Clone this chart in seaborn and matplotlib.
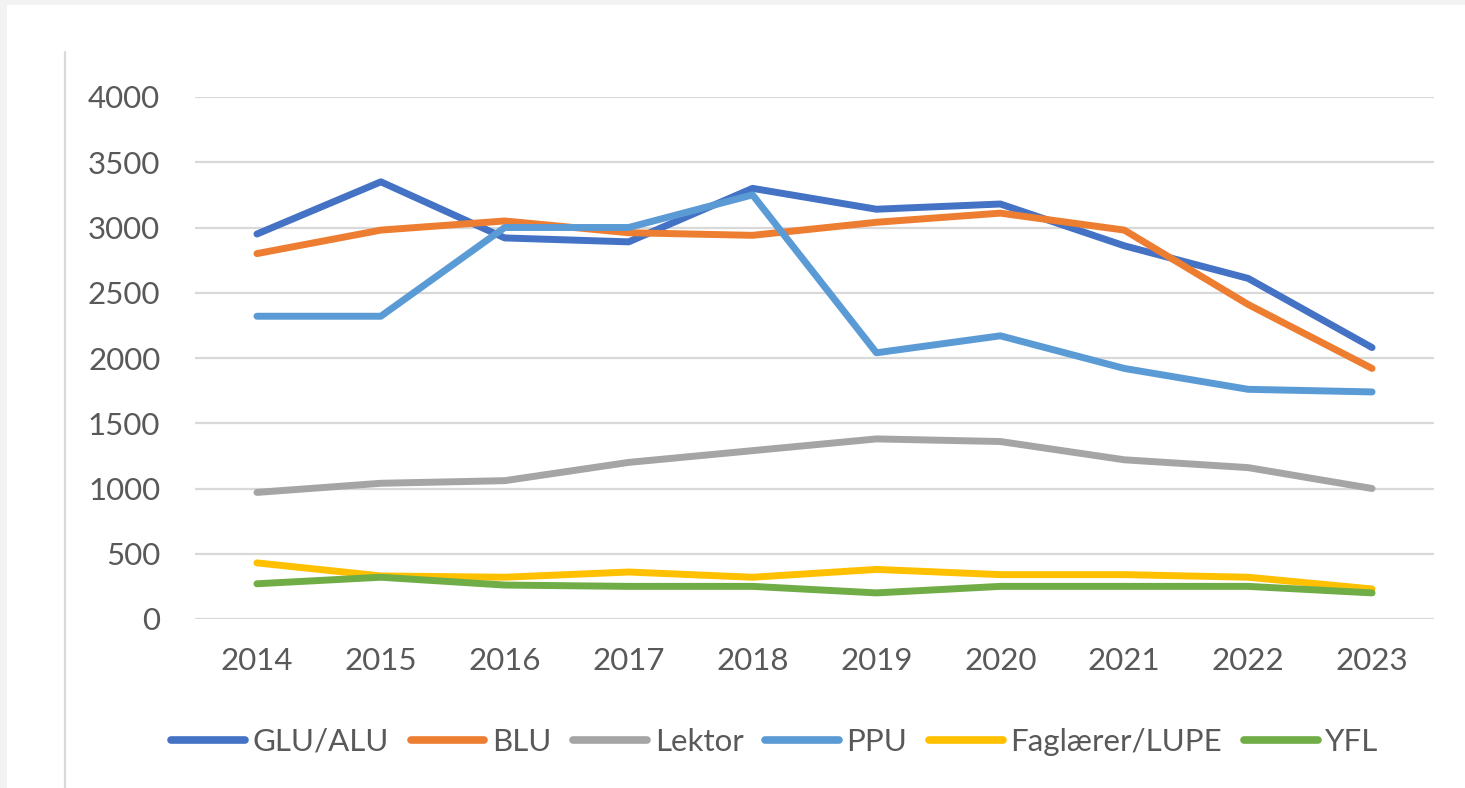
import matplotlib
matplotlib.use("Agg")
import matplotlib.pyplot as plt
import seaborn as sns
import pandas as pd
from matplotlib.patches import Rectangle
from matplotlib.lines import Line2D

years = ["2014", "2015", "2016", "2017", "2018", "2019", "2020", "2021", "2022", "2023"]
glu_alu = [2950, 3350, 2920, 2890, 3300, 3140, 3180, 2860, 2610, 2080]
blu = [2800, 2980, 3050, 2960, 2940, 3040, 3110, 2980, 2410, 1920]
lektor = [970, 1040, 1060, 1200, 1290, 1380, 1360, 1220, 1160, 1000]
ppu = [2320, 2320, 3000, 3000, 3250, 2040, 2170, 1920, 1760, 1740]
faglaerer = [430, 330, 320, 360, 320, 380, 340, 340, 320, 230]
yfl = [270, 320, 260, 250, 250, 200, 250, 250, 250, 200]

series_names = ["GLU/ALU", "BLU", "Lektor", "PPU", "Faglærer/LUPE", "YFL"]
series_vals = [glu_alu, blu, lektor, ppu, faglaerer, yfl]
colors = ["#4472C4", "#ED7D31", "#A5A5A5", "#5B9BD5", "#FFC000", "#70AD47"]
y_ticks = [0, 500, 1000, 1500, 2000, 2500, 3000, 3500, 4000]

rows = []
for name, vals in zip(series_names, series_vals):
    for i, (yr, v) in enumerate(zip(years, vals)):
        rows.append({"idx": i, "year": yr, "value": v, "series": name})
df = pd.DataFrame(rows)

sns.set_style("white")
plt.rcParams["font.family"] = ["Lato", "DejaVu Sans"]

W, H = 1465, 788
fig = plt.figure(figsize=(W / 100, H / 100), dpi=100)
fig.patch.set_facecolor("#f2f2f2")
fig.add_artist(Rectangle((7 / W, 0), 1, 1 - 5 / H, transform=fig.transFigure,
                         facecolor="white", edgecolor="none", zorder=0))
fig.add_artist(Line2D([65 / W, 65 / W], [0, 1 - 52 / H], transform=fig.transFigure,
                      color="#d9d9d9", lw=1.6, zorder=1))

ax = fig.add_axes([195 / W, (H - 619) / H, (1434 - 195) / W, (619 - 97) / H])
ax.set_facecolor("none")
sns.lineplot(data=df, x="idx", y="value", hue="series", hue_order=series_names,
             palette=colors, linewidth=5.0, ax=ax, legend=False, sort=False)

ax.set_xlim(-0.5, len(years) - 0.5)
ax.set_ylim(0, 4000)
ax.set_yticks(y_ticks)
ax.set_yticklabels([str(t) for t in y_ticks])
ax.set_xticks(range(len(years)))
ax.set_xticklabels(years)
ax.grid(axis="y", color="#d9d9d9", linewidth=1.6)
ax.set_axisbelow(True)
for s in ax.spines.values():
    s.set_visible(False)
ax.tick_params(axis="both", length=0, labelsize=22.5, colors="#595959")
ax.tick_params(axis="y", pad=25)
ax.tick_params(axis="x", pad=20)
ax.set_xlabel("")
ax.set_ylabel("")

handles = [Line2D([0], [0], color=c, lw=5.5, solid_capstyle="round") for c in colors]
fig.legend(handles, series_names, loc="center", bbox_to_anchor=(775 / W, (H - 742) / H),
           ncol=6, frameon=False, fontsize=22.5, handlelength=2.35, handletextpad=0.25,
           columnspacing=0.7, labelcolor="#595959", borderpad=0)

fig.savefig("out.png", dpi=100, facecolor=fig.get_facecolor())
